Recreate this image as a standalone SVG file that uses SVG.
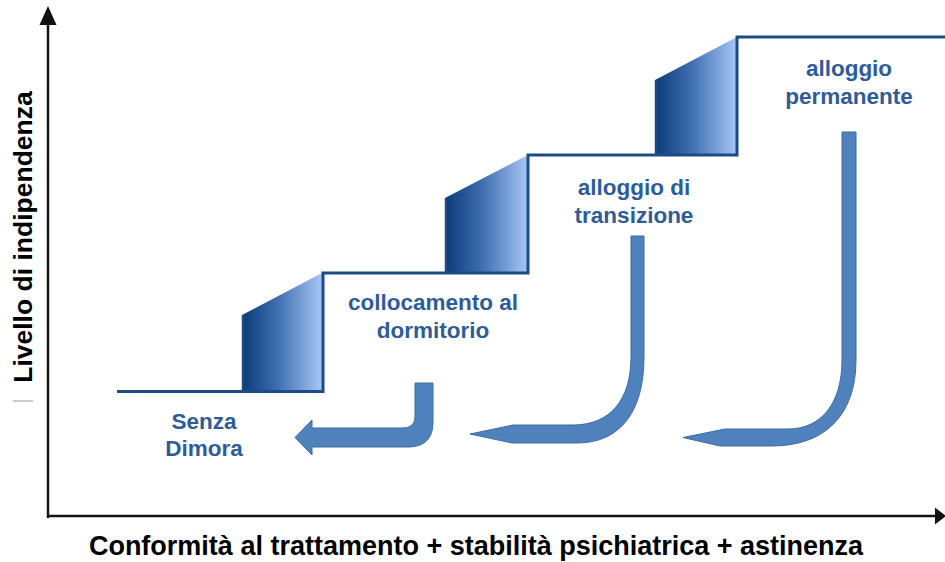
<svg xmlns="http://www.w3.org/2000/svg" width="945" height="562" viewBox="0 0 945 562">
<defs>
<linearGradient id="stepGrad" x1="0" y1="0" x2="1" y2="0">
<stop offset="0" stop-color="#0b3a78"/>
<stop offset="0.45" stop-color="#3f6fb0"/>
<stop offset="1" stop-color="#a8c6f7"/>
</linearGradient>
</defs>
<style>
.axis{stroke:#151515;stroke-width:2.5;fill:none}
.stair{stroke:#1c4b86;stroke-width:3;fill:none;stroke-linejoin:miter}
.block{fill:url(#stepGrad)}
.edge{stroke:#1c4b86;stroke-width:2.5}
.ret{fill:#4f81bd;stroke:#3f6d9f;stroke-width:1}
.lbl{font-family:"Liberation Sans",Arial,sans-serif;font-weight:bold;font-size:22.5px;fill:#2d5c99;text-anchor:middle}
.ax{font-family:"Liberation Sans",Arial,sans-serif;font-weight:bold;font-size:26.5px;fill:#000;text-anchor:middle}
</style>
<rect width="945" height="562" fill="#fff"/>

<g id="axes">
<line class="axis" x1="48" y1="518" x2="48" y2="16"/>
<path d="M48,6 L39.5,25 L56.5,25 Z" fill="#111"/>
<line class="axis" x1="47" y1="516" x2="936" y2="516"/>
<path d="M946,516 L935,507.5 L935,524.5 Z" fill="#111"/>
<line x1="13" y1="401" x2="33" y2="401" stroke="#aaa" stroke-width="1.2"/>
</g>

<g id="stairs">
<polygon class="block" points="242,391 242,315 322,273 322,391"/>
<line class="edge" x1="243" y1="391" x2="243" y2="315"/>
<polygon class="block" points="445,273 445,198 528,155 528,273"/>
<line class="edge" x1="446" y1="273" x2="446" y2="198"/>
<polygon class="block" points="655,155 655,80 737,37 737,155"/>
<line class="edge" x1="656" y1="155" x2="656" y2="80"/>
<path class="stair" d="M117,391.5 H323 V273 H528 V155 H737 V37 H946"/>
</g>

<g id="connectors">
<path class="ret" d="M415,383 H433 V422 C433,438 425,447 408,447 H312 V455 L295,437.5 L312,420 V428 H402 C411,428 415,424 415,416 Z"/>
<path class="ret" d="M631,236 H644 V357 C644,412 620,443 577,443 H512 L470,434 L513,425 H573 C610,425 631,400 631,357 Z"/>
<path class="ret" d="M842,132 H856 V360 C856,415 825,446 772,446 H720 L683,437.5 L725,429 H788 C820,429 842,405 842,360 Z"/>
</g>

<g id="node-senza-dimora">
<text class="lbl" x="204" y="429">Senza</text>
<text class="lbl" x="204" y="456">Dimora</text>
</g>
<g id="node-dormitorio">
<text class="lbl" x="433" y="310">collocamento al</text>
<text class="lbl" x="433" y="338">dormitorio</text>
</g>
<g id="node-transizione">
<text class="lbl" x="634" y="195">alloggio di</text>
<text class="lbl" x="634" y="223">transizione</text>
</g>
<g id="node-permanente">
<text class="lbl" x="849" y="76">alloggio</text>
<text class="lbl" x="849" y="104">permanente</text>
</g>

<g id="axis-labels">
<text class="ax" x="476" y="555" style="font-size:27px">Conformità al trattamento + stabilità psichiatrica + astinenza</text>
<text class="ax" transform="translate(32,237) rotate(-90)" x="0" y="0">Livello di indipendenza</text>
</g>
</svg>
